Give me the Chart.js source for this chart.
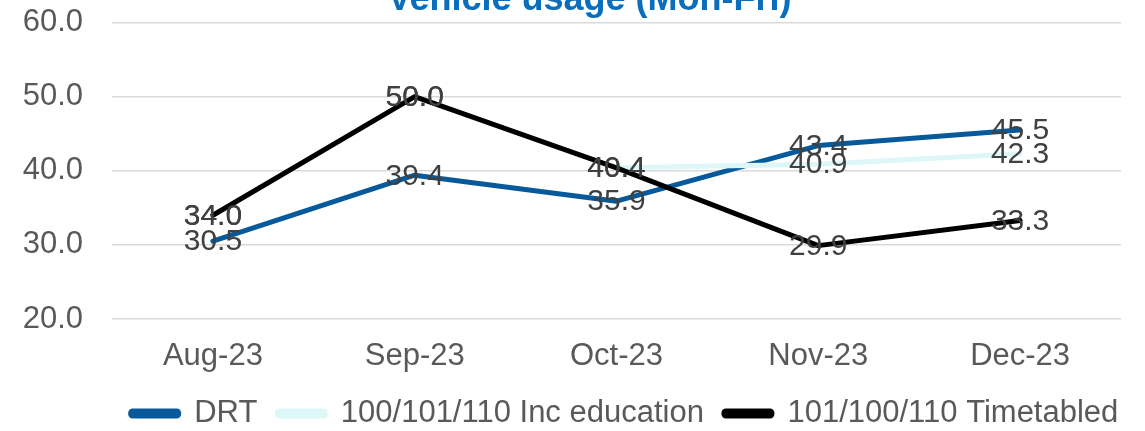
<!DOCTYPE html>
<html><head><meta charset="utf-8">
<script src="https://cdn.jsdelivr.net/npm/chart.js@4"></script>
<style>
html,body{margin:0;padding:0;background:#fff;overflow:hidden;width:1145px;height:431px;}
#wrap{position:absolute;left:0;top:-25px;width:1145px;height:456px;}
</style></head><body>
<div id="wrap"><canvas id="c"></canvas></div>
<script>
const categories = ['Aug-23', 'Sep-23', 'Oct-23', 'Nov-23', 'Dec-23'];
const drtValues = [30.5, 39.4, 35.9, 43.4, 45.5];
const incEducationValues = [34.0, 50.0, 40.4, 40.9, 42.3];
const timetabledValues = [34.0, 50.0, 40.4, 29.9, 33.3];
const yMin = 20, yMax = 60, yStep = 10;
const titleText = 'Vehicle usage (Mon-Fri)';
const seriesNames = ['DRT', '100/101/110 Inc education', '101/100/110 Timetabled'];

const FONT = "'Liberation Sans', Arial, sans-serif";

const dataLabelPlugin = {
  id: 'dataLabels',
  afterDatasetsDraw(chart) {
    const ctx = chart.ctx;
    ctx.save();
    ctx.font = '30px ' + FONT;
    ctx.fillStyle = '#404040';
    ctx.textAlign = 'center';
    ctx.textBaseline = 'middle';
    chart.data.datasets.forEach((ds, i) => {
      const meta = chart.getDatasetMeta(i);
      meta.data.forEach((pt, j) => {
        const v = ds.data[j];
        if (v == null) return;
        ctx.fillText(v.toFixed(1), pt.x, pt.y + 1);
      });
    });
    ctx.restore();
  }
};

const boxShift = {
  id: 'boxShift',
  afterLayout(chart) {
    if (chart.legend) {
      chart.legend.left += 64; chart.legend.right += 64;
      chart.legend.top += 1; chart.legend.bottom += 1;
    }
    if (chart.titleBlock) { chart.titleBlock.left += 29; chart.titleBlock.right += 29; }
  }
};

new Chart(document.getElementById('c'), {
  type: 'line',
  data: {
    labels: categories,
    datasets: [
      { label: seriesNames[2], data: timetabledValues, borderColor: '#000000', backgroundColor: '#000000' },
      { label: seriesNames[1], data: incEducationValues, borderColor: '#DDF7F9', backgroundColor: '#DDF7F9' },
      { label: seriesNames[0], data: drtValues, borderColor: '#065A9C', backgroundColor: '#065A9C' }
    ].map(d => Object.assign(d, { borderWidth: 5, pointRadius: 0, tension: 0, borderJoinStyle: 'round', borderCapStyle: 'round', fill: false }))
  },
  options: {
    responsive: true,
    maintainAspectRatio: false,
    animation: false,
    devicePixelRatio: 1,
    layout: { padding: { left: 0, right: 24, top: 0, bottom: 0 } },
    plugins: {
      tooltip: { enabled: false },
      title: {
        display: true, text: titleText, color: '#0A6EBD',
        font: { family: FONT, size: 36, weight: 'bold' },
        padding: { top: 0, bottom: 1 }
      },
      legend: {
        position: 'bottom', reverse: true, maxHeight: 54,
        labels: {
          color: '#595959', font: { family: FONT, size: 31 },
          boxWidth: 48, boxHeight: 5, padding: 20,
          useBorderRadius: true, borderRadius: 2
        }
      }
    },
    scales: {
      x: {
        offset: true,
        grid: { display: false, drawTicks: false },
        border: { display: false },
        ticks: { color: '#595959', font: { family: FONT, size: 31 }, padding: 19, maxRotation: 0 },
        afterFit(scale) { scale.height = 58; }
      },
      y: {
        min: yMin, max: yMax,
        grid: { color: '#D9D9D9', lineWidth: 1.5, drawTicks: false },
        border: { display: false },
        ticks: { stepSize: yStep, color: '#595959', font: { family: FONT, size: 31 }, padding: 29,
          callback: v => Number(v).toFixed(1) },
        afterFit(scale) { scale.width = 112; }
      }
    }
  },
  plugins: [dataLabelPlugin, boxShift]
});
</script>
</body></html>
